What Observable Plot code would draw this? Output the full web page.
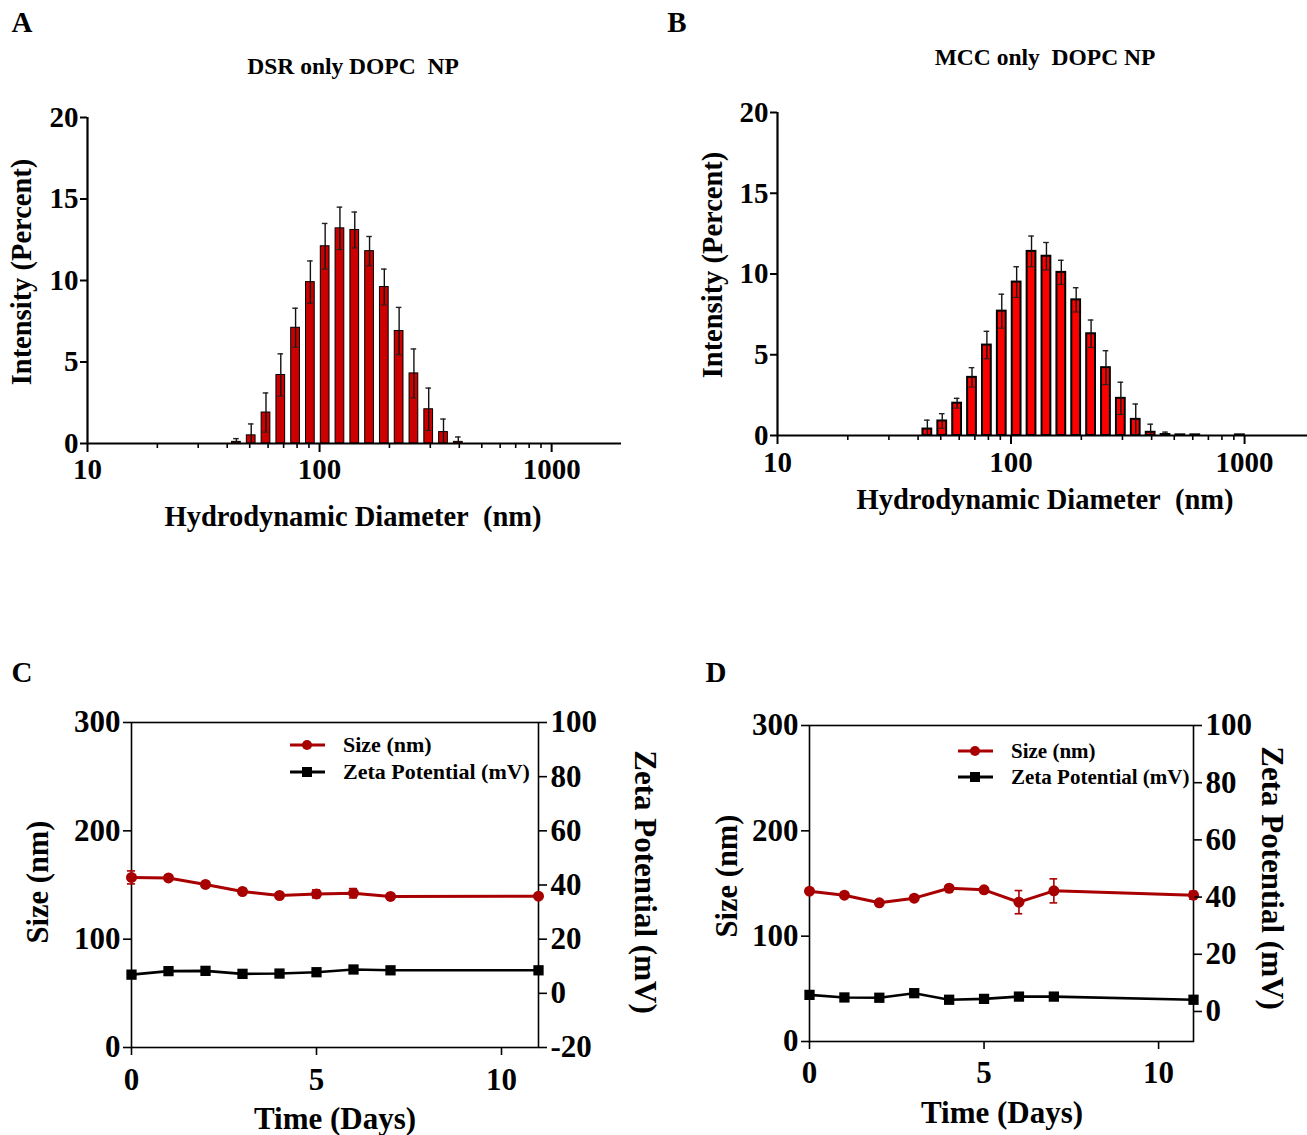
<!DOCTYPE html>
<html>
<head>
<meta charset="utf-8">
<script src="https://cdn.jsdelivr.net/npm/d3@7"></script>
<script src="https://cdn.jsdelivr.net/npm/@observablehq/plot@0.6"></script>
<style>
  html, body { margin: 0; padding: 0; background: #fff; }
  #fig { position: relative; width: 1307px; height: 1135px; background: #fff; overflow: hidden;
         font-family: "Liberation Serif", "DejaVu Serif", serif; font-weight: bold; color: #000; }
  .lbl { position: absolute; white-space: nowrap; line-height: 1; }
  .leg { position: absolute; display: flex; align-items: center; white-space: nowrap; line-height: 1; }
  svg.layer { position: absolute; left: 0; top: 0; }
</style>
</head>
<body>
<div id="fig"></div>
<script>
// ---------------- DATA ----------------
// DLS size bins (nm)
const binsA = [43.82, 50.75, 58.77, 68.06, 78.82, 91.28, 105.7, 122.4, 141.8, 164.2, 190.1, 220.2, 255.0, 295.3, 342.0, 396.1];
const intensityA = [0.1, 0.5, 1.9, 4.2, 7.1, 9.9, 12.1, 13.2, 13.1, 11.8, 9.6, 6.9, 4.3, 2.1, 0.7, 0.1];
const sdA = [0.2, 0.7, 1.2, 1.3, 1.2, 1.3, 1.4, 1.3, 1.1, 0.9, 1.1, 1.45, 1.5, 1.3, 0.8, 0.3];

const binsB = [43.82, 50.75, 58.77, 68.06, 78.82, 91.28, 105.7, 122.4, 141.8, 164.2, 190.1, 220.2, 255.0, 295.3, 342.0, 396.1, 458.7, 531.2, 615.1, 955.4];
const intensityB = [0.4, 0.9, 2.0, 3.6, 5.6, 7.7, 9.5, 11.4, 11.1, 10.1, 8.4, 6.3, 4.2, 2.3, 1.0, 0.2, 0.06, 0.04, 0.04, 0.04];
const sdB = [0.55, 0.45, 0.3, 0.6, 0.85, 1.05, 0.95, 0.95, 0.85, 0.75, 0.75, 0.85, 1.05, 1.0, 0.95, 0.5, 0.15, 0, 0, 0];

const xTicksLog = [10, 100, 1000];
const xMinorLog = [20, 30, 40, 50, 60, 70, 80, 90, 200, 300, 400, 500, 600, 700, 800, 900];
const yTicksDist = [0, 5, 10, 15, 20];

const days = [0, 1, 2, 3, 4, 5, 6, 7, 11];
const sizeC = [157, 156.5, 150.5, 144, 140.3, 141.8, 142.4, 139.4, 139.7];
const sizeSdC = [6, 0, 0, 0, 0, 3.7, 4.3, 0, 0];
const zetaC = [6.9, 8.2, 8.3, 7.2, 7.3, 7.8, 8.8, 8.5, 8.5];

const sizeD = [142.7, 138.9, 131.7, 136.1, 145.5, 144.0, 132.3, 143.0, 138.9];
const sizeSdD = [0, 0, 0, 0, 0, 0, 11, 11.4, 3.8];
const zetaD = [5.8, 4.9, 4.8, 6.4, 4.1, 4.4, 5.2, 5.2, 4.1];

const sizeTicks = [0, 100, 200, 300];
const zetaTicksC = [-20, 0, 20, 40, 60, 80, 100];
const zetaTicksD = [0, 20, 40, 60, 80, 100];
const dayTicks = [0, 5, 10];

// ---------------- HELPERS ----------------
const W = 1307, H = 1135;
const fig = document.getElementById("fig");
const FONT = '"Liberation Serif", "DejaVu Serif", serif';
const RED = "#A80000";

function layer(opts) {
  const svg = Plot.plot(Object.assign({
    width: W, height: H,
    style: { background: "transparent", fontFamily: FONT, fontWeight: "bold", overflow: "visible" }
  }, opts));
  svg.classList.add("layer");
  fig.appendChild(svg);
  return svg;
}
function label(text, x, y, size, rot = 0) {
  const d = document.createElement("div");
  d.className = "lbl";
  d.textContent = text;
  d.style.left = x + "px"; d.style.top = y + "px";
  d.style.fontSize = size + "px";
  d.style.transform = `translate(-50%,-50%) rotate(${rot}deg)`;
  fig.appendChild(d);
}
function legendRow(x, y, color, symbol, text, size) {
  const d = document.createElement("div");
  d.className = "leg";
  d.style.left = x + "px"; d.style.top = (y - 12) + "px"; d.style.height = "24px";
  d.style.fontSize = size + "px";
  const sym = symbol === "circle"
    ? `<circle cx="17" cy="12" r="5" fill="${color}"/>`
    : `<rect x="12" y="7" width="10" height="10" fill="${color}"/>`;
  d.innerHTML = `<svg width="36" height="24" style="margin-right:17px"><line x1="0" x2="35" y1="12" y2="12" stroke="${color}" stroke-width="3"/>${sym}</svg><span>${text}</span>`;
  fig.appendChild(d);
}

// ---------------- PANELS A & B (size distributions) ----------------
function distPanel(bins, vals, sds, cfg) {
  const data = bins.map((d, i) => ({ d, v: vals[i], e: sds[i] }));
  const hw = 10 ** 0.0188, cw = 10 ** 0.012;
  const err = data.filter(r => r.e > 0);
  layer({
    marginLeft: cfg.ml, marginRight: cfg.mr, marginTop: cfg.mt, marginBottom: cfg.mb,
    x: { type: "log", domain: cfg.xdomain, label: null },
    y: { domain: [0, 20], label: null },
    marks: [
      Plot.rectY(data, { x1: r => r.d / hw, x2: r => r.d * hw, y: "v", fill: cfg.fill, stroke: "#000", strokeWidth: cfg.sw }),
      Plot.ruleX(err, { x: "d", y1: r => Math.max(0, r.v - r.e), y2: r => r.v + r.e, stroke: "#111", strokeWidth: 1.4 }),
      Plot.ruleY(err, { y: r => r.v + r.e, x1: r => r.d / cw, x2: r => r.d * cw, stroke: "#222", strokeWidth: 1.4 }),
      Plot.ruleY(err.filter(r => r.v - r.e > 0), { y: r => r.v - r.e, x1: r => r.d / cw, x2: r => r.d * cw, stroke: "#222", strokeWidth: 1.2 }),
      Plot.ruleY([0], { stroke: "#000", strokeWidth: 2.2 }),
      Plot.ruleX([cfg.xdomain[0]], { stroke: "#000", strokeWidth: 2.2 }),
      Plot.axisY({ ticks: yTicksDist, tickSize: 7, tickPadding: 2, fontSize: 29, tickFormat: d => String(d), strokeWidth: 2, label: null }),
      Plot.axisX({ ticks: xTicksLog, tickSize: 9, tickPadding: cfg.xpad, fontSize: 29, tickFormat: d => String(d), strokeWidth: 2, label: null }),
      Plot.axisX({ ticks: xMinorLog, tickSize: 5, tickFormat: () => "", strokeWidth: 1.6, label: null })
    ]
  });
}

distPanel(binsA, intensityA, sdA, { ml: 87, mr: W - 621, mt: 117, mb: H - 443, xdomain: [10, 2000], fill: "#CC0000", sw: 1, xpad: 6 });
distPanel(binsB, intensityB, sdB, { ml: 777, mr: 0, mt: 112, mb: H - 435, xdomain: [10, 1860], fill: "#FF0000", sw: 2, xpad: 7 });

label("A", 22, 22, 29);
label("B", 677, 22, 29);
label("DSR only DOPC\u00a0\u00a0NP", 353, 67, 23.5);
label("MCC only\u00a0\u00a0DOPC NP", 1045, 58, 23.5);
label("Intensity (Percent)", 22, 272, 28.5, -90);
label("Intensity (Percent)", 713, 265, 28.5, -90);
label("Hydrodynamic Diameter\u00a0\u00a0(nm)", 353, 517, 28.5);
label("Hydrodynamic Diameter\u00a0\u00a0(nm)", 1045, 500, 28.5);

// ---------------- PANELS C & D (stability) ----------------
function stabilityPanel(size, sizeSd, zeta, cfg) {
  const data = days.map((t, i) => ({ t, s: size[i], e: sizeSd[i], z: zeta[i] }));
  const err = data.filter(r => r.e > 0);
  const base = {
    marginLeft: cfg.ml, marginRight: cfg.mr, marginTop: cfg.mt, marginBottom: cfg.mb
  };
  // left axis: size
  layer(Object.assign({}, base, {
    x: { domain: [0, 11], label: null },
    y: { domain: [0, 300], label: null },
    marks: [
      Plot.frame({ stroke: "#000", strokeWidth: 1.6 }),
      Plot.axisY({ ticks: sizeTicks, tickSize: 8, tickPadding: 3, fontSize: 31, tickFormat: d => String(d), strokeWidth: 1.6, label: null }),
      Plot.axisX({ ticks: dayTicks, tickSize: 8, tickPadding: cfg.xpad, fontSize: 31, tickFormat: d => String(d), strokeWidth: 1.6, label: null }),
      Plot.line(data, { x: "t", y: "s", stroke: RED, strokeWidth: 3 }),
      Plot.ruleX(err, { x: "t", y1: r => r.s - r.e, y2: r => r.s + r.e, stroke: RED, strokeWidth: 1.6 }),
      Plot.ruleY(err, { y: r => r.s + r.e, x1: r => r.t - 0.11, x2: r => r.t + 0.11, stroke: RED, strokeWidth: 1.6 }),
      Plot.ruleY(err, { y: r => r.s - r.e, x1: r => r.t - 0.11, x2: r => r.t + 0.11, stroke: RED, strokeWidth: 1.6 }),
      Plot.dot(data, { x: "t", y: "s", r: 5.5, fill: RED })
    ]
  }));
  // right axis: zeta
  layer(Object.assign({}, base, {
    x: { domain: [0, 11], label: null, axis: null },
    y: { domain: cfg.zdomain, label: null },
    marks: [
      Plot.axisY({ anchor: "right", ticks: cfg.zticks, tickSize: 8, tickPadding: 4, fontSize: 31, tickFormat: d => String(d), strokeWidth: 1.6, label: null }),
      Plot.line(data, { x: "t", y: "z", stroke: "#000", strokeWidth: 2.6 }),
      Plot.dot(data, { x: "t", y: "z", r: 5.8, symbol: "square", fill: "#000" })
    ]
  }));
}

stabilityPanel(sizeC, sizeSdC, zetaC, { ml: 131, mr: W - 538, mt: 722, mb: H - 1047, zdomain: [-20, 100], zticks: zetaTicksC, xpad: 12 });
stabilityPanel(sizeD, sizeSdD, zetaD, { ml: 809, mr: W - 1193, mt: 725, mb: H - 1041, zdomain: [-10.5, 100], zticks: zetaTicksD, xpad: 11 });

label("C", 22, 672, 29);
label("D", 716, 672, 29);
label("Size (nm)", 38, 882, 30.5, -90);
label("Zeta Potential (mV)", 645, 882, 31, 90);
label("Time (Days)", 335, 1118, 31);
label("Size (nm)", 727, 876, 30.5, -90);
label("Zeta Potential (mV)", 1272, 878, 31, 90);
label("Time (Days)", 1002, 1112, 31);

legendRow(290, 745, RED, "circle", "Size (nm)", 22);
legendRow(290, 772, "#000", "square", "Zeta Potential (mV)", 22);
legendRow(958, 751, RED, "circle", "Size (nm)", 21);
legendRow(958, 777, "#000", "square", "Zeta Potential (mV)", 21);
</script>
</body>
</html>
